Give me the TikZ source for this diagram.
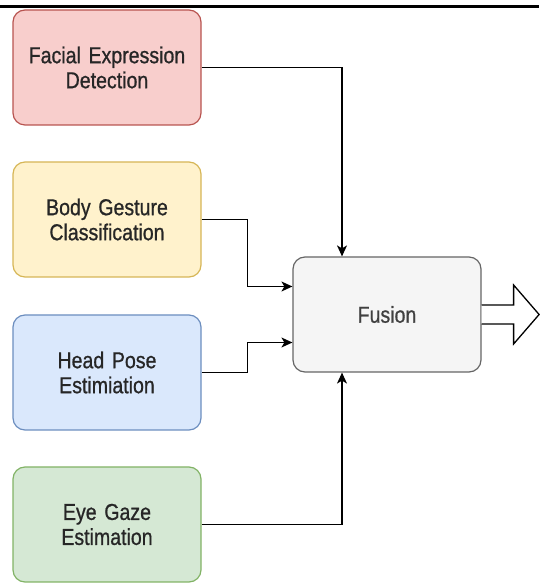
\documentclass[tikz,border=0pt]{standalone}
\usepackage{fontspec}
\setmainfont{Liberation Sans}[FakeStretch=0.85]
\newfontfamily\boxfont{Liberation Sans}[FakeStretch=0.85,FakeBold=0.8]
\usetikzlibrary{arrows.meta,calc}
\definecolor{redF}{HTML}{F8CECC}\definecolor{redD}{HTML}{B85450}
\definecolor{yelF}{HTML}{FFF2CC}\definecolor{yelD}{HTML}{D6B656}
\definecolor{bluF}{HTML}{DAE8FC}\definecolor{bluD}{HTML}{6C8EBF}
\definecolor{grnF}{HTML}{D5E8D4}\definecolor{grnD}{HTML}{82B366}
\definecolor{gryF}{HTML}{F5F5F5}\definecolor{gryD}{HTML}{666666}
\begin{document}
\begin{tikzpicture}[x=1pt,y=1pt,
  blockbox/.style={rounded corners=12pt,line width=1.2pt,minimum width=188pt,minimum height=115pt,
    inner sep=0pt,align=center,text width=180pt,font=\boxfont\fontsize{23}{25}\selectfont,text=black!85},
  conn/.style={line width=1.3pt,-{Stealth[length=11pt,width=10pt,inset=3pt]}}]
\useasboundingbox (0,0) rectangle (539,584);
\draw[line width=3pt] (0,577.5) -- (539,577.5);
\node[blockbox,fill=redF,draw=redD] (fac) at (107,516.5) {Facial Expression\\Detection};
\node[blockbox,fill=yelF,draw=yelD] (body) at (107,364.5) {Body Gesture\\Classification};
\node[blockbox,fill=bluF,draw=bluD] (head) at (107,211.5) {Head Pose\\Estimiation};
\node[blockbox,fill=grnF,draw=grnD] (eye) at (107,59.5) {Eye Gaze\\Estimation};
\node[blockbox,fill=gryF,draw=gryD,text=black!75] (fus) at (387,269.5) {Fusion};
\draw[conn] (fac.east) -| ([xshift=-45pt]fus.north);
\draw[conn] (eye.east) -| ([xshift=-45pt]fus.south);
\draw[conn] (body.east) -- ++(46,0) |- ([yshift=28pt]fus.west);
\draw[conn] (head.east) -- ++(46,0) |- ([yshift=-28pt]fus.west);
\coordinate (out) at (fus.east);
\draw[line width=1.3pt,fill=white,line join=miter]
  ($(out)+(0,9.5)$) -- ++(32,0) -- ++(0,20) -- ($(out)+(57.5,0)$) -- ($(out)+(32,-29.5)$) -- ++(0,20) -- ($(out)+(0,-9.5)$);
\end{tikzpicture}
\end{document}
